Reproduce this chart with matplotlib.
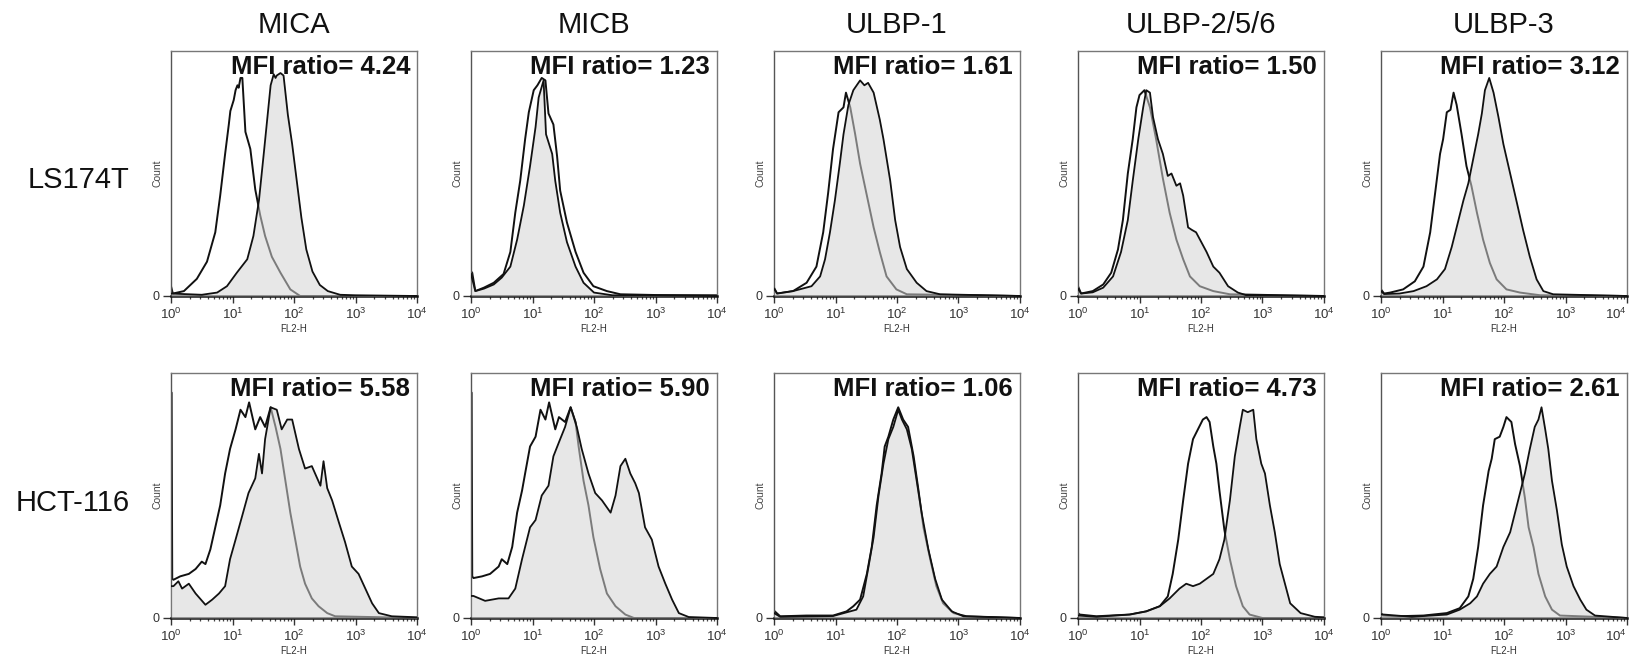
import numpy as np
import matplotlib
matplotlib.use("Agg")
import matplotlib.pyplot as plt
from matplotlib.ticker import FixedLocator, FixedFormatter, LogLocator, NullFormatter

plt.rcParams['font.family'] = ['Liberation Sans', 'DejaVu Sans']
plt.rcParams['mathtext.default'] = 'regular'

# ---------------- data (log10 fluorescence, relative count) ----------------
markers = ["MICA", "MICB", "ULBP-1", "ULBP-2/5/6", "ULBP-3"]
cell_lines = ["LS174T", "HCT-116"]
mfi_ls174t = [4.24, 1.23, 1.61, 1.50, 3.12]
mfi_hct116 = [5.58, 5.90, 1.06, 4.73, 2.61]
xtick_labels = ["$10^{0}$", "$10^{1}$", "$10^{2}$", "$10^{3}$", "$10^{4}$"]

# LS174T -- isotype control (open) and stained (filled)
ls_mica_iso = [(0.0,0.04),(0.03,0.01),(0.21,0.02),(0.42,0.07),(0.585,0.14),(0.72,0.26),(0.80,0.41),(0.88,0.58),(0.94,0.70),(0.965,0.755),(1.02,0.80),(1.05,0.84),(1.08,0.86),(1.10,0.85),(1.13,0.89),(1.16,0.89),(1.21,0.67),(1.29,0.60),(1.37,0.435),(1.45,0.33),(1.53,0.245),(1.64,0.16),(1.78,0.095),(1.94,0.027),(2.10,0.0),(4.0,0.0)]
ls_mica_st = [(0.0,0.01),(0.5,0.005),(0.75,0.014),(0.91,0.04),(1.07,0.095),(1.24,0.15),(1.34,0.245),(1.43,0.39),(1.51,0.585),(1.56,0.71),(1.62,0.86),(1.67,0.905),(1.70,0.89),(1.72,0.90),(1.78,0.91),(1.83,0.90),(1.90,0.74),(1.97,0.62),(2.04,0.48),(2.12,0.32),(2.20,0.19),(2.30,0.10),(2.42,0.045),(2.55,0.02),(2.75,0.005),(3.0,0.003),(4.0,0.0)]
ls_micb_iso = [(0.0,0.10),(0.02,0.095),(0.07,0.02),(0.21,0.034),(0.37,0.054),(0.53,0.09),(0.64,0.18),(0.72,0.34),(0.80,0.47),(0.88,0.64),(0.94,0.75),(1.02,0.84),(1.08,0.86),(1.15,0.89),(1.21,0.88),(1.26,0.745),(1.34,0.70),(1.40,0.57),(1.45,0.43),(1.56,0.30),(1.70,0.18),(1.83,0.095),(1.99,0.04),(2.21,0.02),(2.43,0.007),(3.0,0.004),(4.0,0.003)]
ls_micb_st = [(0.0,0.09),(0.07,0.02),(0.21,0.03),(0.37,0.047),(0.50,0.075),(0.64,0.12),(0.75,0.23),(0.86,0.37),(0.96,0.53),(1.05,0.69),(1.10,0.81),(1.18,0.88),(1.22,0.66),(1.32,0.58),(1.37,0.47),(1.45,0.34),(1.56,0.22),(1.70,0.12),(1.83,0.054),(2.0,0.014),(2.3,0.003),(4.0,0.0)]
ls_ulbp1_iso = [(0.0,0.034),(0.05,0.01),(0.31,0.02),(0.53,0.054),(0.69,0.12),(0.80,0.26),(0.88,0.42),(0.96,0.60),(1.05,0.75),(1.13,0.77),(1.17,0.83),(1.24,0.77),(1.32,0.66),(1.40,0.54),(1.51,0.41),(1.62,0.28),(1.72,0.18),(1.83,0.08),(1.99,0.027),(2.16,0.007),(4.0,0.0)]
ls_ulbp1_st = [(0.0,0.03),(0.05,0.01),(0.31,0.02),(0.61,0.04),(0.75,0.08),(0.83,0.15),(0.91,0.26),(0.99,0.39),(1.07,0.54),(1.13,0.66),(1.21,0.78),(1.29,0.84),(1.40,0.88),(1.47,0.86),(1.53,0.87),(1.62,0.83),(1.72,0.72),(1.78,0.64),(1.89,0.47),(1.97,0.31),(2.05,0.20),(2.16,0.11),(2.32,0.054),(2.48,0.02),(2.70,0.007),(4.0,0.0)]
ls_ulbp256_iso = [(0.0,0.04),(0.05,0.01),(0.24,0.02),(0.41,0.047),(0.54,0.095),(0.65,0.19),(0.73,0.31),(0.81,0.50),(0.89,0.64),(0.95,0.77),(1.0,0.82),(1.08,0.84),(1.17,0.77),(1.27,0.64),(1.38,0.48),(1.49,0.34),(1.60,0.23),(1.71,0.15),(1.82,0.08),(1.98,0.04),(2.20,0.02),(2.47,0.007),(4.0,0.0)]
ls_ulbp256_st = [(0.0,0.03),(0.05,0.01),(0.24,0.015),(0.41,0.034),(0.57,0.08),(0.70,0.18),(0.81,0.31),(0.89,0.47),(0.98,0.64),(1.06,0.77),(1.11,0.84),(1.17,0.83),(1.22,0.73),(1.30,0.64),(1.38,0.58),(1.46,0.49),(1.52,0.50),(1.60,0.45),(1.66,0.46),(1.71,0.41),(1.79,0.28),(1.85,0.27),(1.92,0.26),(2.09,0.18),(2.20,0.12),(2.30,0.095),(2.44,0.04),(2.60,0.014),(2.74,0.003),(4.0,0.0)]
ls_ulbp3_iso = [(0.0,0.027),(0.05,0.01),(0.15,0.014),(0.36,0.027),(0.55,0.06),(0.69,0.12),(0.80,0.26),(0.88,0.42),(0.96,0.58),(1.01,0.64),(1.07,0.75),(1.13,0.76),(1.18,0.83),(1.23,0.78),(1.31,0.66),(1.39,0.53),(1.47,0.45),(1.56,0.34),(1.66,0.23),(1.77,0.135),(1.88,0.068),(2.04,0.027),(2.26,0.014),(2.59,0.003),(4.0,0.0)]
ls_ulbp3_st = [(0.0,0.02),(0.05,0.008),(0.3,0.01),(0.53,0.02),(0.74,0.04),(0.91,0.068),(1.04,0.11),(1.15,0.20),(1.26,0.31),(1.34,0.39),(1.42,0.46),(1.50,0.56),(1.58,0.66),(1.64,0.745),(1.69,0.84),(1.76,0.89),(1.83,0.83),(1.91,0.73),(1.99,0.62),(2.10,0.50),(2.21,0.38),(2.31,0.27),(2.42,0.16),(2.53,0.068),(2.64,0.02),(2.80,0.007),(4.0,0.0)]

# HCT-116 -- isotype control (open) and stained (filled)
hct_mica_iso = [(0.0,0.92),(0.01,0.92),(0.02,0.16),(0.04,0.156),(0.15,0.17),(0.29,0.18),(0.40,0.20),(0.50,0.23),(0.56,0.22),(0.64,0.28),(0.72,0.37),(0.80,0.46),(0.88,0.59),(0.96,0.69),(1.05,0.77),(1.13,0.85),(1.21,0.82),(1.27,0.88),(1.37,0.77),(1.45,0.82),(1.53,0.78),(1.62,0.86),(1.70,0.78),(1.78,0.69),(1.86,0.56),(1.94,0.43),(2.02,0.32),(2.10,0.21),(2.18,0.14),(2.29,0.08),(2.40,0.048),(2.54,0.02),(2.67,0.007),(4.0,0.0)]
hct_mica_st = [(0.0,0.13),(0.04,0.13),(0.12,0.15),(0.18,0.12),(0.29,0.14),(0.40,0.10),(0.56,0.054),(0.67,0.075),(0.78,0.10),(0.88,0.13),(0.96,0.24),(1.05,0.32),(1.15,0.41),(1.26,0.51),(1.37,0.57),(1.43,0.67),(1.48,0.59),(1.53,0.73),(1.62,0.86),(1.72,0.85),(1.80,0.77),(1.89,0.81),(1.97,0.81),(2.08,0.69),(2.18,0.61),(2.29,0.62),(2.43,0.54),(2.48,0.64),(2.54,0.53),(2.62,0.48),(2.73,0.39),(2.83,0.31),(2.94,0.21),(3.05,0.18),(3.16,0.12),(3.27,0.06),(3.38,0.02),(3.59,0.007),(4.0,0.003)]
hct_micb_iso = [(0.0,0.92),(0.01,0.92),(0.02,0.17),(0.04,0.163),(0.18,0.17),(0.31,0.18),(0.45,0.21),(0.50,0.24),(0.59,0.22),(0.67,0.29),(0.75,0.43),(0.83,0.52),(0.88,0.59),(0.96,0.70),(1.05,0.74),(1.13,0.85),(1.21,0.81),(1.27,0.88),(1.37,0.77),(1.43,0.82),(1.53,0.80),(1.62,0.86),(1.70,0.80),(1.75,0.70),(1.83,0.56),(1.91,0.46),(1.99,0.33),(2.10,0.20),(2.21,0.10),(2.35,0.048),(2.51,0.014),(2.65,0.0),(4.0,0.0)]
hct_micb_st = [(0.0,0.09),(0.04,0.09),(0.23,0.07),(0.45,0.08),(0.61,0.08),(0.72,0.12),(0.83,0.24),(0.96,0.37),(1.05,0.40),(1.15,0.50),(1.26,0.54),(1.34,0.66),(1.45,0.73),(1.53,0.78),(1.62,0.86),(1.72,0.78),(1.80,0.69),(1.91,0.59),(2.02,0.51),(2.13,0.48),(2.27,0.43),(2.35,0.50),(2.43,0.62),(2.51,0.65),(2.59,0.59),(2.67,0.55),(2.73,0.51),(2.83,0.37),(2.94,0.32),(3.05,0.21),(3.16,0.14),(3.27,0.075),(3.38,0.02),(3.54,0.004),(4.0,0.0)]
hct_ulbp1_iso = [(0.0,0.03),(0.1,0.007),(0.53,0.01),(0.96,0.01),(1.18,0.027),(1.29,0.048),(1.40,0.075),(1.51,0.18),(1.59,0.29),(1.67,0.46),(1.75,0.59),(1.80,0.70),(1.86,0.74),(1.94,0.81),(2.02,0.86),(2.10,0.81),(2.18,0.78),(2.27,0.66),(2.35,0.52),(2.43,0.37),(2.54,0.24),(2.64,0.13),(2.75,0.06),(2.92,0.02),(3.13,0.007),(4.0,0.0)]
hct_ulbp1_st = [(0.0,0.02),(0.1,0.005),(0.96,0.008),(1.34,0.034),(1.45,0.088),(1.53,0.20),(1.62,0.33),(1.70,0.50),(1.78,0.63),(1.86,0.73),(1.94,0.78),(2.02,0.85),(2.08,0.81),(2.16,0.77),(2.24,0.69),(2.32,0.56),(2.40,0.43),(2.51,0.28),(2.62,0.16),(2.73,0.075),(2.89,0.027),(3.08,0.007),(4.0,0.0)]
hct_ulbp256_iso = [(0.0,0.02),(0.03,0.014),(0.3,0.007),(0.84,0.014),(1.11,0.027),(1.33,0.048),(1.46,0.088),(1.54,0.18),(1.63,0.32),(1.71,0.48),(1.79,0.63),(1.87,0.73),(1.95,0.77),(2.03,0.81),(2.09,0.82),(2.14,0.80),(2.20,0.70),(2.25,0.63),(2.30,0.52),(2.38,0.36),(2.47,0.24),(2.57,0.13),(2.68,0.048),(2.79,0.014),(3.0,0.0),(4.0,0.0)]
hct_ulbp256_st = [(0.0,0.01),(0.3,0.005),(0.84,0.014),(1.11,0.027),(1.33,0.048),(1.49,0.08),(1.65,0.12),(1.76,0.14),(1.87,0.13),(1.98,0.14),(2.09,0.16),(2.20,0.18),(2.30,0.24),(2.38,0.32),(2.47,0.48),(2.55,0.66),(2.63,0.78),(2.68,0.85),(2.76,0.84),(2.85,0.85),(2.90,0.73),(2.98,0.63),(3.04,0.59),(3.12,0.46),(3.20,0.35),(3.28,0.22),(3.45,0.06),(3.62,0.02),(3.85,0.005),(4.0,0.003)]
hct_ulbp3_iso = [(0.0,0.02),(0.03,0.01),(0.25,0.007),(0.69,0.01),(1.07,0.02),(1.28,0.04),(1.42,0.088),(1.50,0.16),(1.58,0.29),(1.66,0.46),(1.75,0.60),(1.80,0.65),(1.85,0.73),(1.93,0.74),(1.99,0.78),(2.04,0.82),(2.12,0.80),(2.18,0.71),(2.26,0.62),(2.34,0.49),(2.40,0.37),(2.48,0.29),(2.56,0.18),(2.67,0.088),(2.78,0.034),(2.91,0.01),(4.0,0.0)]
hct_ulbp3_st = [(0.0,0.015),(0.5,0.005),(1.07,0.014),(1.28,0.034),(1.45,0.06),(1.56,0.088),(1.66,0.14),(1.77,0.18),(1.88,0.21),(1.99,0.29),(2.10,0.35),(2.18,0.43),(2.26,0.51),(2.34,0.59),(2.42,0.69),(2.50,0.78),(2.56,0.81),(2.61,0.86),(2.67,0.77),(2.72,0.69),(2.78,0.56),(2.86,0.44),(2.94,0.30),(3.02,0.21),(3.13,0.13),(3.24,0.075),(3.34,0.034),(3.48,0.01),(4.0,0.0)]

iso_rows = [[ls_mica_iso, ls_micb_iso, ls_ulbp1_iso, ls_ulbp256_iso, ls_ulbp3_iso],
            [hct_mica_iso, hct_micb_iso, hct_ulbp1_iso, hct_ulbp256_iso, hct_ulbp3_iso]]
st_rows = [[ls_mica_st, ls_micb_st, ls_ulbp1_st, ls_ulbp256_st, ls_ulbp3_st],
           [hct_mica_st, hct_micb_st, hct_ulbp1_st, hct_ulbp256_st, hct_ulbp3_st]]
mfi_rows = [mfi_ls174t, mfi_hct116]

# ---------------- figure ----------------
W, H = 1629, 663
fig = plt.figure(figsize=(W / 100, H / 100), dpi=100)

lefts_px = [171, 471, 774, 1078, 1381]
box_w = 246
rows_px = [(51, 296), (373, 618)]   # (top, bottom) in pixels

line_c = '#111111'
for r in range(2):
    top, bot = rows_px[r]
    for c in range(5):
        ax = fig.add_axes([lefts_px[c] / W, (H - bot) / H, box_w / W, (bot - top) / H])
        iso = np.array(iso_rows[r][c])
        st = np.array(st_rows[r][c])
        xi, yi = 10 ** iso[:, 0], iso[:, 1]
        xs, ys = 10 ** st[:, 0], st[:, 1]
        ax.plot(xi, yi, color=line_c, lw=1.4, zorder=2, solid_joinstyle='round')
        ax.fill_between(xs, 0, ys, color='#d4d4d4', alpha=0.55, lw=0, zorder=3)
        ax.plot(xs, ys, color=line_c, lw=1.3, zorder=4, solid_joinstyle='round')
        ax.set_xscale('log')
        ax.set_xlim(1, 1e4)
        ax.set_ylim(0, 1)

        ax.xaxis.set_major_locator(FixedLocator([1, 10, 100, 1000, 10000]))
        ax.xaxis.set_major_formatter(FixedFormatter(xtick_labels))
        ax.xaxis.set_minor_locator(LogLocator(base=10, subs=np.arange(2, 10)))
        ax.xaxis.set_minor_formatter(NullFormatter())
        ax.tick_params(axis='x', which='major', length=5, width=1.0, colors='#333333',
                       labelsize=9.5, pad=3)
        ax.tick_params(axis='x', which='minor', length=2.5, width=0.9, colors='#444444')
        ax.set_yticks([0])
        ax.set_yticklabels(['0'])
        ax.tick_params(axis='y', length=6, width=1.0, colors='#333333', labelsize=9, pad=2)

        if c == 4:
            # keep the last decade label inside the figure
            fig.canvas.draw()
            ax.get_xticklabels()[-1].set_horizontalalignment('right')

        for side in ['top', 'right']:
            ax.spines[side].set_color('#777777')
            ax.spines[side].set_linewidth(1.0)
        ax.spines['left'].set_color('#555555')
        ax.spines['left'].set_linewidth(1.0)
        ax.spines['bottom'].set_color('#111111')
        ax.spines['bottom'].set_linewidth(1.8)

        ax.set_xlabel('FL2-H', fontsize=7, color='#333333', labelpad=1)
        ax.text(-0.055, 0.5, 'Count', rotation=90, transform=ax.transAxes,
                ha='center', va='center', fontsize=7.5, color='#444444')
        ax.text(0.972, 0.985, f"MFI ratio= {mfi_rows[r][c]:.2f}", transform=ax.transAxes,
                ha='right', va='top', fontsize=18.5, fontweight='bold', color='#111111',
                zorder=5)

        if r == 0:
            fig.text((lefts_px[c] + box_w / 2) / W, 1 - 25 / H, markers[c],
                     ha='center', va='center', fontsize=21, color='#111111')

fig.text(79 / W, 1 - 180 / H, cell_lines[0], ha='center', va='center', fontsize=21, color='#111111')
fig.text(73 / W, 1 - 503 / H, cell_lines[1], ha='center', va='center', fontsize=21, color='#111111')

fig.savefig('out.png', dpi=100)
